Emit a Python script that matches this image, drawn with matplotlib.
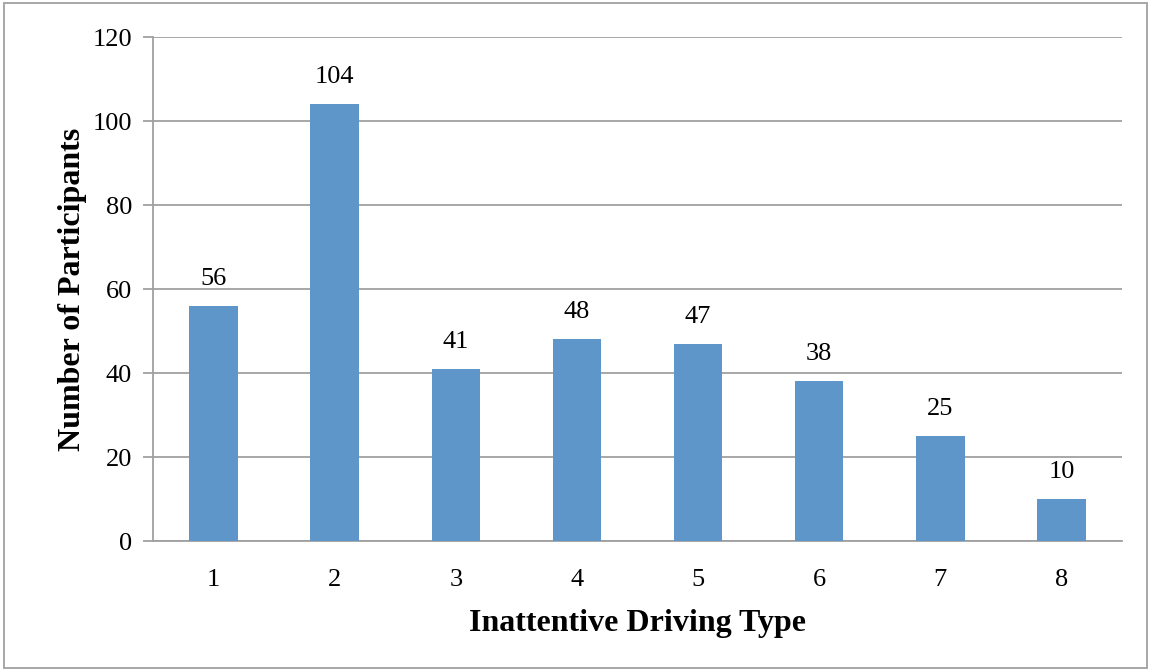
import matplotlib.pyplot as plt
from matplotlib.patches import Rectangle

types = [1, 2, 3, 4, 5, 6, 7, 8]
participants = [56, 104, 41, 48, 47, 38, 25, 10]

plt.rcParams['font.family'] = ['Liberation Serif', 'DejaVu Serif']

fig = plt.figure(figsize=(11.51, 6.71), dpi=100)
ax = fig.add_axes([0.1329, 0.1937, 0.8419, 0.7511])

bars = ax.bar(types, participants, width=0.4, color='#5F96CA', zorder=3)
for x, v in zip(types, participants):
    ax.text(x, v + 3.8, str(v), ha='center', va='bottom', fontsize=19)

ax.set_xlim(0.5, 8.5)
ax.set_ylim(0, 120)
ax.set_yticks(range(0, 121, 20))
ax.set_xticks(types)
ax.grid(axis='y', color='#A0A0A0', linewidth=1.3, zorder=0)
for s in ['top', 'right']:
    ax.spines[s].set_visible(False)
for s in ['left', 'bottom']:
    ax.spines[s].set_color('#A0A0A0')
    ax.spines[s].set_linewidth(1.3)
ax.tick_params(axis='y', length=7, color='#A0A0A0', width=1.3, labelsize=19, pad=8)
ax.tick_params(axis='x', length=0, labelsize=19, pad=20)

ax.set_xlabel('Inattentive Driving Type', fontsize=23, fontweight='bold', labelpad=13)
ax.set_ylabel('Number of Participants', fontsize=23, fontweight='bold', labelpad=4)

fig.patches.append(Rectangle((0.0035, 0.0045), 0.993, 0.991, transform=fig.transFigure,
                             fill=False, edgecolor='#A0A0A0', linewidth=1.3))

fig.savefig('out.png', dpi=100)
